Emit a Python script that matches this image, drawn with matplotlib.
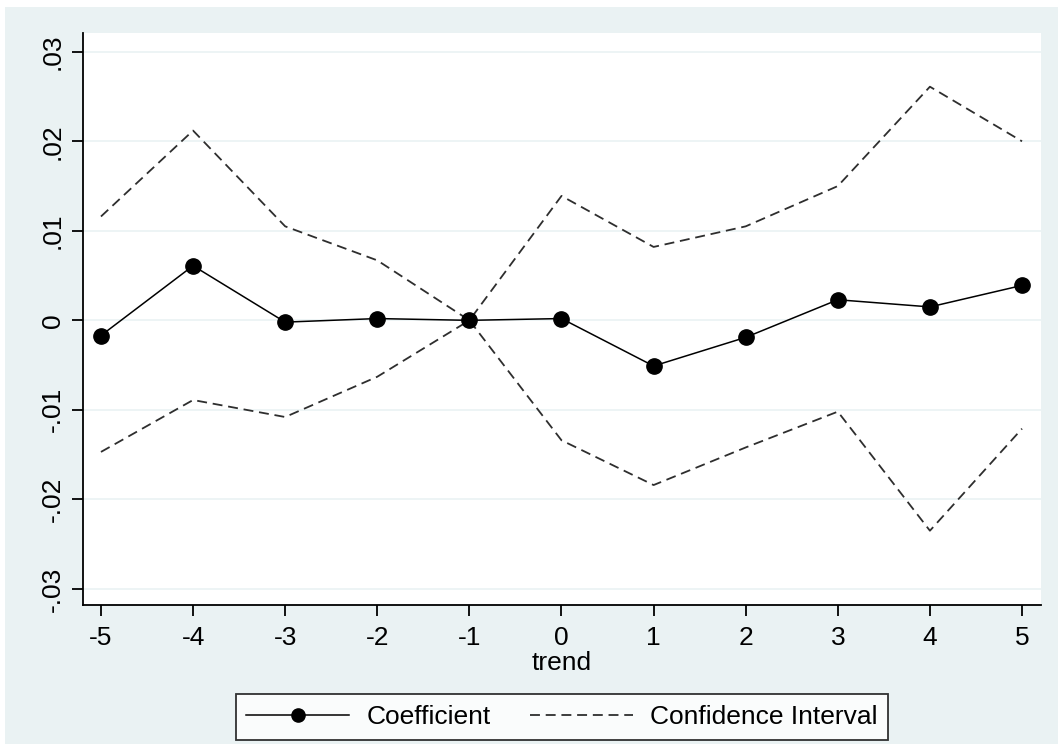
import matplotlib.pyplot as plt
from matplotlib.patches import Rectangle
from matplotlib.lines import Line2D

plt.rcParams['font.family'] = ['Liberation Sans', 'DejaVu Sans']

trend = [-5, -4, -3, -2, -1, 0, 1, 2, 3, 4, 5]
coef = [-0.0017, 0.0061, -0.0002, 0.0002, 0.0, 0.0002, -0.0051, -0.0019, 0.0023, 0.0015, 0.0039]
ci_upper = [0.0116, 0.0212, 0.0105, 0.0067, 0.0, 0.0139, 0.0082, 0.0105, 0.0150, 0.0261, 0.0200]
ci_lower = [-0.0147, -0.0089, -0.0108, -0.0063, 0.0, -0.0134, -0.0184, -0.0142, -0.0102, -0.0235, -0.0121]

y_ticks = [-0.03, -0.02, -0.01, 0, 0.01, 0.02, 0.03]
y_labels = ['-.03', '-.02', '-.01', '0', '.01', '.02', '.03']

bg = '#eaf2f3'
dash_col = '#2e2e2e'
W, H = 1058, 744

fig = plt.figure(figsize=(W / 100, H / 100), dpi=100, facecolor='white')
# light outer panel, as in Stata's s2color scheme
fig.add_artist(Rectangle((5 / W, 0), 1 - 5 / W, 1 - 7 / H, transform=fig.transFigure,
                         facecolor=bg, edgecolor='none', zorder=-10))

ax = fig.add_axes([83 / W, 1 - 605 / H, (1041 - 83) / W, (605 - 33) / H])
ax.set_facecolor('white')

ax.plot(trend, ci_upper, color=dash_col, lw=1.3, dashes=(5.5, 3.2), zorder=2)
ax.plot(trend, ci_lower, color=dash_col, lw=1.3, dashes=(5.5, 3.2), zorder=2)
ax.plot(trend, coef, color='black', lw=1.1, marker='o', markersize=11, zorder=3)

ax.set_xlim(-5.195, 5.206)
ax.set_ylim(-0.0318, 0.0321)
ax.set_xticks(trend)
ax.set_xticklabels([str(t) for t in trend], fontsize=19)
ax.set_yticks(y_ticks)
ax.set_yticklabels(y_labels, fontsize=19, rotation=90, va='center')
ax.grid(axis='y', color=bg, lw=1.2, zorder=0)
ax.set_axisbelow(True)

for side in ['top', 'right']:
    ax.spines[side].set_visible(False)
for side in ['left', 'bottom']:
    ax.spines[side].set_linewidth(1.3)
ax.tick_params(direction='out', length=8, width=1.3, pad=5)
ax.tick_params(axis='x', pad=7)

ax.set_xlabel('trend', fontsize=19, labelpad=1)

handles = [
    Line2D([], [], color='black', lw=1.1, marker='o', markersize=9.5),
    Line2D([], [], color=dash_col, lw=1.3, dashes=(5.5, 3.2)),
]
leg = fig.legend(handles, ['Coefficient', 'Confidence Interval'], ncol=2,
                 loc='center', bbox_to_anchor=(562 / W, 1 - 717 / H),
                 fontsize=19, frameon=True, fancybox=False, handlelength=3.9,
                 columnspacing=1.5, borderpad=0.4, handletextpad=0.65,
                 borderaxespad=0)
leg.get_frame().set_edgecolor('black')
leg.get_frame().set_linewidth(1.3)
leg.get_frame().set_facecolor('white')

fig.savefig('out.png', dpi=100, facecolor=fig.get_facecolor())
